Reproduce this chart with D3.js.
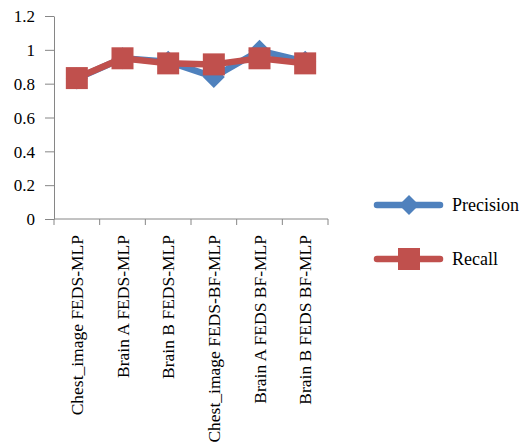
<!DOCTYPE html>
<html><head><meta charset="utf-8">
<script src="https://cdn.jsdelivr.net/npm/d3@7/dist/d3.min.js"></script>
<style>body{margin:0;background:#fff;}svg{display:block;}</style>
</head><body>
<script>
const categories = ["Chest_image FEDS-MLP","Brain A FEDS-MLP","Brain B FEDS-MLP","Chest_image FEDS-BF-MLP","Brain A FEDS BF-MLP","Brain B FEDS BF-MLP"];
const precision = [0.83, 0.95, 0.93, 0.84, 0.995, 0.93];
const recall = [0.833, 0.95, 0.92, 0.914, 0.95, 0.92];
const yTicks = [0, 0.2, 0.4, 0.6, 0.8, 1, 1.2];
const seriesNames = ["Precision", "Recall"];
const colors = ["#4F81BD", "#C0504D"];

const W = 531, H = 443;
const svg = d3.select("body").append("svg").attr("width", W).attr("height", H);
const font = "'Liberation Serif', 'Times New Roman', serif";

const x = d3.scaleBand().domain(categories).range([54, 328]);
const y = d3.scaleLinear().domain([0, 1.2]).range([219, 16]);

// Y axis
const yAxis = svg.append("g").attr("transform", "translate(54,0)")
  .call(d3.axisLeft(y).tickValues(yTicks).tickSize(9).tickSizeOuter(0).tickFormat(d => d3.format("")(d)));
yAxis.selectAll("path,line").attr("stroke", "#868686");
yAxis.selectAll("text").attr("font-family", font).attr("font-size", 17).attr("fill", "#000").attr("x", -19).attr("dy", "0.34em");

// X axis
const xAxis = svg.append("g").attr("transform", "translate(0,219)");
xAxis.append("line").attr("x1", 54).attr("x2", 328).attr("stroke", "#868686");
const bounds = categories.map(c => x(c)).concat([x.range()[1]]);
xAxis.selectAll("line.tk").data(bounds).enter().append("line").attr("class", "tk")
  .attr("x1", d => d).attr("x2", d => d).attr("y1", 0).attr("y2", 6).attr("stroke", "#868686");
xAxis.selectAll("text").data(categories).enter().append("text")
  .attr("transform", d => `translate(${x(d) + x.bandwidth() / 2 + 6},16) rotate(-90)`)
  .attr("text-anchor", "end")
  .attr("font-family", font).attr("font-size", 17.5).attr("fill", "#000")
  .text(d => d);

const cx = d => x(d) + x.bandwidth() / 2;
const line = d3.line().x((d, i) => cx(categories[i])).y(d => y(d));

// Precision
svg.append("path").datum(precision).attr("d", line).attr("fill", "none")
  .attr("stroke", colors[0]).attr("stroke-width", 6.5).attr("stroke-linejoin", "round").attr("stroke-linecap", "round");
const dsz = 11;
svg.selectAll("path.dia").data(precision).enter().append("path").attr("class", "dia")
  .attr("d", (d, i) => { const px = cx(categories[i]), py = y(d); return `M${px},${py - dsz}L${px + dsz},${py}L${px},${py + dsz}L${px - dsz},${py}Z`; })
  .attr("fill", colors[0]);

// Recall
svg.append("path").datum(recall).attr("d", line).attr("fill", "none")
  .attr("stroke", colors[1]).attr("stroke-width", 6.5).attr("stroke-linejoin", "round").attr("stroke-linecap", "round");
const sq = 22;
svg.selectAll("rect.sq").data(recall).enter().append("rect").attr("class", "sq")
  .attr("x", (d, i) => cx(categories[i]) - sq / 2).attr("y", d => y(d) - sq / 2)
  .attr("width", sq).attr("height", sq).attr("fill", colors[1]);

// Legend
const leg = svg.append("g");
seriesNames.forEach((name, i) => {
  const ly = 205 + i * 54;
  leg.append("line").attr("x1", 377).attr("x2", 440).attr("y1", ly).attr("y2", ly)
    .attr("stroke", colors[i]).attr("stroke-width", 6.5).attr("stroke-linecap", "round");
  if (i === 0) {
    leg.append("path").attr("d", `M409,${ly - 10}L419,${ly}L409,${ly + 10}L399,${ly}Z`).attr("fill", colors[i]);
  } else {
    leg.append("rect").attr("x", 398).attr("y", ly - 11).attr("width", 22).attr("height", 22).attr("fill", colors[i]);
  }
  leg.append("text").attr("x", 452).attr("y", ly + 6).attr("font-family", font).attr("font-size", 18)
    .attr("fill", "#000").text(name);
});
</script>
</body></html>
